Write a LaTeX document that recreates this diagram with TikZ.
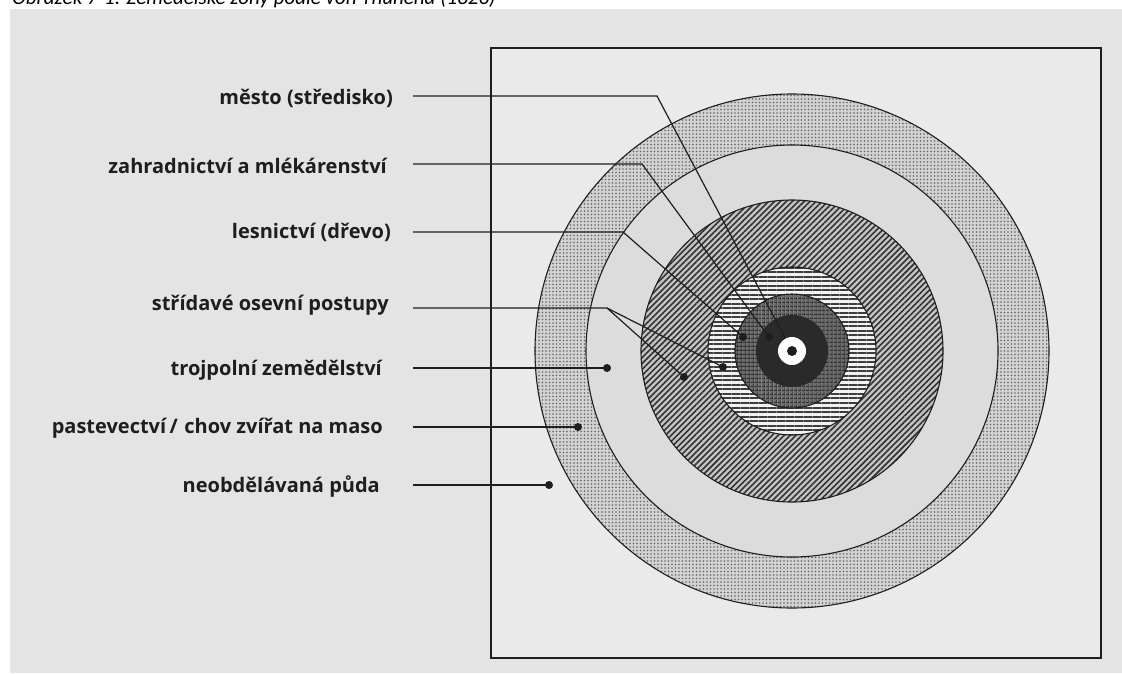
\documentclass[tikz,border=0pt]{standalone}
\usepackage{fontspec}
\setmainfont{Open Sans}
\newfontfamily\capfont{Carlito}
\usetikzlibrary{patterns,patterns.meta}
\definecolor{bgout}{HTML}{E4E4E4}
\definecolor{bgin}{HTML}{EAEAEA}
\definecolor{pastbase}{HTML}{D2D2D2}
\definecolor{pastdots}{HTML}{666666}
\definecolor{lightzone}{HTML}{DCDCDC}
\definecolor{hatchbase}{HTML}{C4C4C4}
\definecolor{hatchline}{HTML}{333333}
\definecolor{stripebase}{HTML}{F2F2F2}
\definecolor{stripeline}{HTML}{3E3E3E}
\definecolor{plaidbase}{HTML}{6C6C6C}
\definecolor{plaidline}{HTML}{303030}
\definecolor{darkring}{HTML}{2A2A2A}
\definecolor{ink}{HTML}{1E1E1E}
\tikzset{
  ring/.style={draw=ink, line width=1.1pt},
  leader/.style={draw=ink, line width=1.2pt, line join=miter},
  marker/.style={fill=ink},
  lab/.style={anchor=east, inner sep=0pt, text=ink, font=\bfseries\fontsize{20}{24}\selectfont},
}
\begin{document}
\begin{tikzpicture}[x=1pt,y=-1pt]
\useasboundingbox (0,0) rectangle (1122,673);
\fill[white] (0,0) rectangle (1122,673);
\fill[bgout] (10,9) rectangle (1122,673);
\node[anchor=base west, inner sep=0pt, font=\capfont\itshape\fontsize{21}{24}\selectfont] (cap) at (12,4) {Obrázek 7-1: Zemědělské zóny podle von Thünena (1826)};
% frame
\draw[draw=ink, line width=1.2pt, fill=bgin] (491,48) rectangle (1101,658);
\coordinate (c) at (792,351);
% pasture ring
\fill[pastbase] (c) circle[radius=257pt];
\fill[pattern={Dots[distance=3.5pt,radius=0.85pt]}, pattern color=pastdots] (c) circle[radius=257pt];
\draw[ring] (c) circle[radius=257pt];
% three-field zone
\fill[lightzone] (c) circle[radius=206pt];
\draw[ring] (c) circle[radius=206pt];
% hatched ring
\fill[hatchbase] (c) circle[radius=151pt];
\fill[pattern={Lines[angle=45,distance=4.2pt,line width=1.6pt]}, pattern color=hatchline] (c) circle[radius=151pt];
\draw[ring] (c) circle[radius=151pt];
% horizontal stripes ring
\fill[stripebase] (c) circle[radius=84pt];
\fill[pattern={Lines[angle=0,distance=4.5pt,line width=2pt]}, pattern color=stripeline] (c) circle[radius=84pt];
\draw[ring] (c) circle[radius=84pt];
% plaid ring
\fill[plaidbase] (c) circle[radius=57pt];
\fill[pattern={Lines[angle=0,distance=4pt,line width=1.3pt]}, pattern color=plaidline] (c) circle[radius=57pt];
\fill[pattern={Lines[angle=90,distance=4pt,line width=1.3pt]}, pattern color=plaidline] (c) circle[radius=57pt];
\draw[ring] (c) circle[radius=57pt];
% dark ring
\fill[darkring] (c) circle[radius=36pt];
% labels
\node[lab] (l1) at (393,98) {město (středisko)};
\node[lab] (l2) at (387,166) {zahradnictví a mlékárenství};
\node[lab] (l3) at (391,232) {lesnictví (dřevo)};
\node[lab] (l4) at (389,305) {střídavé osevní postupy};
\node[lab] (l5) at (382,370) {trojpolní zemědělství};
\node[lab] (l6) at (383,428) {pastevectví\,/\,\,chov zvířat na maso};
\node[lab] (l7) at (380,487) {neobdělávaná půda};
% leader starts, bends and ends
\coordinate (s1) at (413,96);  \coordinate (b1) at (657,96);  \coordinate (e1) at (792,351);
\coordinate (s2) at (413,164); \coordinate (b2) at (642,164); \coordinate (e2) at (769,337);
\coordinate (s3) at (413,232); \coordinate (b3) at (623,232); \coordinate (e3) at (743,337);
\coordinate (s4) at (413,308); \coordinate (b4) at (607,308); \coordinate (e4a) at (723,367); \coordinate (e4b) at (684,377);
\coordinate (s5) at (413,368); \coordinate (e5) at (607,368);
\coordinate (s6) at (413,427); \coordinate (e6) at (578,427);
\coordinate (s7) at (413,485); \coordinate (e7) at (549,485);
\draw[leader] (s1) -- (b1) -- (e1);
\draw[leader] (s2) -- (b2) -- (e2);
\draw[leader] (s3) -- (b3) -- (e3);
\draw[leader] (s4) -- (b4) -- (e4a);
\draw[leader] (b4) -- (e4b);
\draw[leader] (s5) -- (e5);
\draw[leader] (s6) -- (e6);
\draw[leader] (s7) -- (e7);
% city
\fill[white] (c) circle[radius=14pt];
\fill[marker] (c) circle[radius=5pt];
\foreach \p in {e2,e3,e4a,e4b,e5,e6,e7} \fill[marker] (\p) circle[radius=4pt];
\end{tikzpicture}
\end{document}
